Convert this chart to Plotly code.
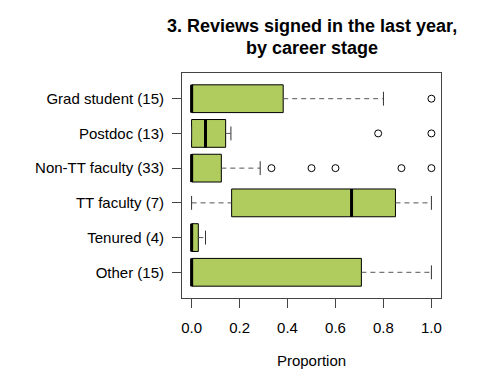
import plotly.graph_objects as go

# ---- data ----
categories = ["Grad student (15)", "Postdoc (13)", "Non-TT faculty (33)",
              "TT faculty (7)", "Tenured (4)", "Other (15)"]
lower_whisker = [0.0, 0.0, 0.0, 0.0, 0.0, 0.0]
q1 = [0.0, 0.0, 0.0, 0.167, 0.0, 0.0]
median = [0.0, 0.058, 0.0, 0.667, 0.0, 0.0]
q3 = [0.382, 0.142, 0.124, 0.85, 0.028, 0.708]
upper_whisker = [0.8, 0.164, 0.286, 1.0, 0.058, 1.0]
outlier_group = ["Grad student (15)", "Postdoc (13)", "Postdoc (13)",
                 "Non-TT faculty (33)", "Non-TT faculty (33)", "Non-TT faculty (33)",
                 "Non-TT faculty (33)", "Non-TT faculty (33)"]
outlier_value = [1.0, 0.778, 1.0, 0.333, 0.5, 0.6, 0.875, 1.0]
x_ticks = [0.0, 0.2, 0.4, 0.6, 0.8, 1.0]

# ---- geometry helpers ----
n = len(categories)
pos = [n - i for i in range(n)]           # top-to-bottom like R horizontal boxplot
pos_of = dict(zip(categories, pos))
half_box = 0.4
half_staple = 0.2

FONT = "Liberation Sans, Arial, Helvetica, sans-serif"
GREEN = "#B0CC5F"

fig = go.Figure()

# dashed whiskers
wx, wy = [], []
for p, lw, a, b, uw in zip(pos, lower_whisker, q1, q3, upper_whisker):
    if a > lw:
        wx += [lw, a, None]; wy += [p, p, None]
    if uw > b:
        wx += [b, uw, None]; wy += [p, p, None]
fig.add_trace(go.Scatter(x=wx, y=wy, mode="lines",
                         line=dict(color="#555555", width=1, dash="5px,4px"),
                         showlegend=False, hoverinfo="skip"))

# staples
sx, sy = [], []
for p, lw, uw in zip(pos, lower_whisker, upper_whisker):
    for v in (lw, uw):
        sx += [v, v, None]; sy += [p - half_staple, p + half_staple, None]
fig.add_trace(go.Scatter(x=sx, y=sy, mode="lines",
                         line=dict(color="#333333", width=1),
                         showlegend=False, hoverinfo="skip"))

# boxes
fig.add_trace(go.Box(orientation="h", y=pos, q1=q1, median=median, q3=q3,
                     lowerfence=q1, upperfence=q3, width=2 * half_box,
                     whiskerwidth=0, fillcolor=GREEN,
                     line=dict(color="black", width=1),
                     boxpoints=False, showlegend=False, hoverinfo="skip"))

# thick medians
mx, my = [], []
for p, m in zip(pos, median):
    mx += [m, m, None]; my += [p - half_box, p + half_box, None]
fig.add_trace(go.Scatter(x=mx, y=my, mode="lines",
                         line=dict(color="black", width=3),
                         showlegend=False, hoverinfo="skip"))

# outliers
fig.add_trace(go.Scatter(x=outlier_value, y=[pos_of[g] for g in outlier_group],
                         mode="markers",
                         marker=dict(symbol="circle-open", size=7,
                                     color="black", line=dict(width=1)),
                         showlegend=False, hoverinfo="skip"))

axis_common = dict(showgrid=False, zeroline=False, showline=True, mirror=True,
                   linecolor="#444444", linewidth=1, ticks="outside", ticklen=9,
                   tickcolor="#444444", automargin=False,
                   tickfont=dict(family=FONT, size=15, color="black"))

# the page body adds an 8px offset, so the figure is sized/margined to compensate
fig.update_layout(
    width=481, height=374,
    margin=dict(l=174, r=48, t=65, b=84),
    paper_bgcolor="white", plot_bgcolor="white",
    font=dict(family=FONT, color="black"),
    xaxis=dict(range=[-0.04, 1.04], tickvals=x_ticks,
               ticktext=[f"{v:.1f}" for v in x_ticks],
               ticklabelstandoff=7,
               title=dict(text="Proportion", font=dict(family=FONT, size=15),
                          standoff=20),
               **axis_common),
    yaxis=dict(range=[0.26, n + 0.74], tickvals=pos, ticktext=categories,
               ticklabelstandoff=5,
               **axis_common),
    annotations=[
        dict(text="<b>3. Reviews signed in the last year,</b>", xref="paper", yref="paper",
             x=0.5, y=1 + (65 - 17.5) / 225, xanchor="center", yanchor="middle",
             showarrow=False, font=dict(family=FONT, size=18, color="black")),
        dict(text="<b>by career stage</b>", xref="paper", yref="paper",
             x=0.5, y=1 + (65 - 39.5) / 225, xanchor="center", yanchor="middle",
             showarrow=False, font=dict(family=FONT, size=18, color="black")),
    ],
)

fig.write_html("out.html")
